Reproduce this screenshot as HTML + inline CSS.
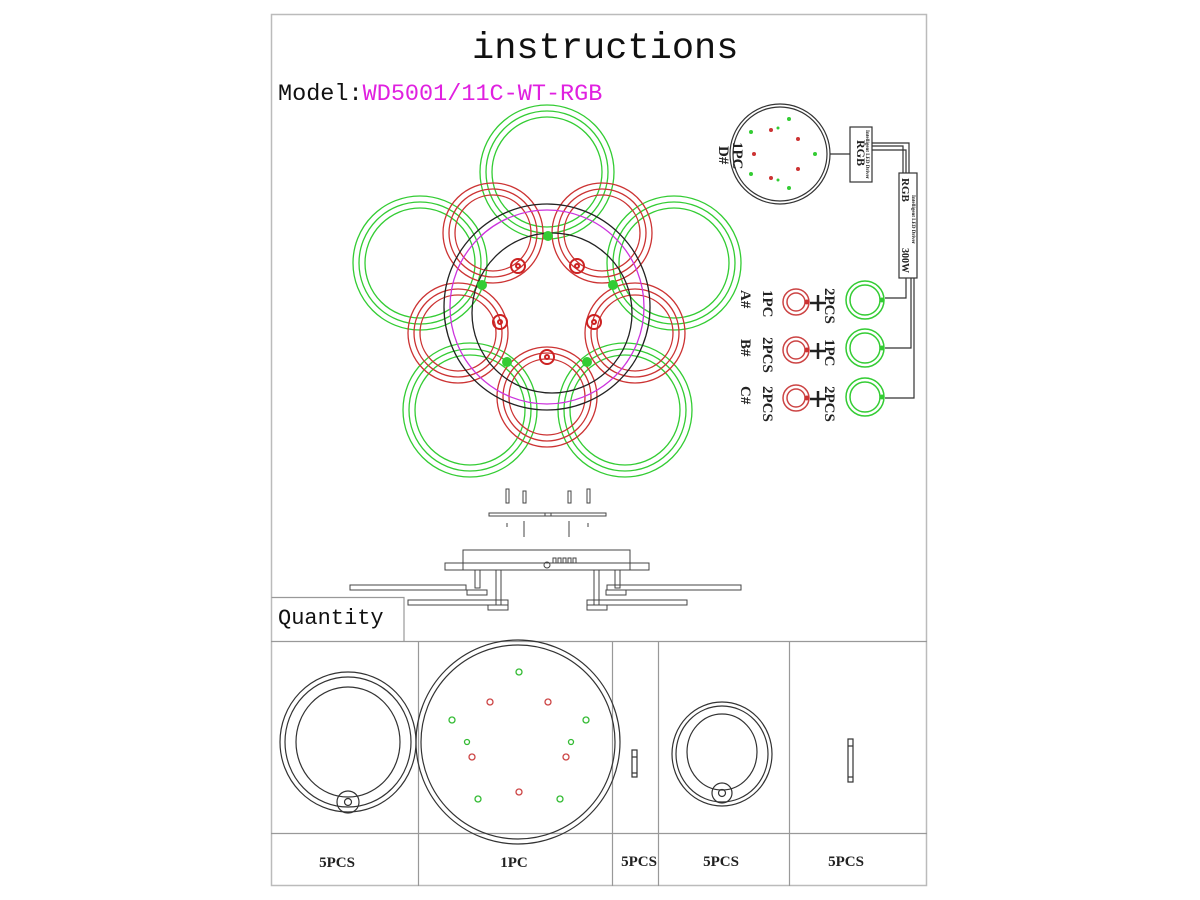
<!DOCTYPE html>
<html><head><meta charset="utf-8"><style>
html,body{margin:0;padding:0;background:#fff;}
svg{display:block}
text{font-family:"Liberation Mono",monospace}
.s{font-family:"Liberation Serif",serif;font-weight:bold}
</style></head><body>
<svg width="1200" height="900" viewBox="0 0 1200 900" xmlns="http://www.w3.org/2000/svg">
<rect x="271.5" y="14.5" width="655" height="871" fill="none" stroke="#bbb" stroke-width="1.5"/>
<text x="472" y="58" font-size="37" fill="#111">instructions</text>
<text x="278" y="100" font-size="23.5" fill="#111">Model:<tspan fill="#e020e0">WD5001/11C-WT-RGB</tspan></text>

<!-- main cluster -->
<g fill="none" stroke-width="1.3">
 <g stroke="#33cc33">
  <circle cx="547" cy="172" r="67"/><circle cx="547" cy="172" r="61"/><circle cx="547" cy="172" r="55"/>
  <circle cx="420" cy="263" r="67"/><circle cx="420" cy="263" r="61"/><circle cx="420" cy="263" r="55"/>
  <circle cx="674" cy="263" r="67"/><circle cx="674" cy="263" r="61"/><circle cx="674" cy="263" r="55"/>
  <circle cx="470" cy="410" r="67"/><circle cx="470" cy="410" r="61"/><circle cx="470" cy="410" r="55"/>
  <circle cx="625" cy="410" r="67"/><circle cx="625" cy="410" r="61"/><circle cx="625" cy="410" r="55"/>
 </g>
 <g stroke="#cc3333">
  <circle cx="493" cy="233" r="50"/><circle cx="493" cy="233" r="44"/><circle cx="493" cy="233" r="38"/>
  <circle cx="602" cy="233" r="50"/><circle cx="602" cy="233" r="44"/><circle cx="602" cy="233" r="38"/>
  <circle cx="458" cy="333" r="50"/><circle cx="458" cy="333" r="44"/><circle cx="458" cy="333" r="38"/>
  <circle cx="635" cy="333" r="50"/><circle cx="635" cy="333" r="44"/><circle cx="635" cy="333" r="38"/>
  <circle cx="547" cy="397" r="50"/><circle cx="547" cy="397" r="44"/><circle cx="547" cy="397" r="38"/>
 </g>
 <circle cx="547" cy="307" r="97" stroke="#cc33dd"/>
 <circle cx="547" cy="307" r="103" stroke="#222"/>
 <circle cx="552" cy="313" r="80" stroke="#222"/>
 <g stroke="#cc2222" stroke-width="2">
  <circle cx="518" cy="266" r="7"/><circle cx="577" cy="266" r="7"/><circle cx="500" cy="322" r="7"/><circle cx="594" cy="322" r="7"/><circle cx="547" cy="357" r="7"/>
  <circle cx="518" cy="266" r="2"/><circle cx="577" cy="266" r="2"/><circle cx="500" cy="322" r="2"/><circle cx="594" cy="322" r="2"/><circle cx="547" cy="357" r="2"/>
 </g>
</g>
<g fill="#33cc33"><circle cx="548" cy="236" r="5"/><circle cx="482" cy="285" r="5"/><circle cx="613" cy="285" r="5"/><circle cx="507" cy="362" r="5"/><circle cx="587" cy="362" r="5"/></g>

<!-- D# panel -->
<g fill="none" stroke="#333" stroke-width="1.2">
 <circle cx="780" cy="154" r="50"/><circle cx="780" cy="154" r="47"/>
 <line x1="830" y1="154" x2="850" y2="154"/>
 <rect x="850" y="127" width="22" height="55"/>
 <rect x="899" y="173" width="18" height="105"/>
 <path d="M872 146 H903 V173 M872 150 H906 V173 M872 143 H909 V173"/>
 <path d="M906 278 V298 H903 M911 278 V348 H885 M914 278 V398 H885"/>
 <line x1="903" y1="298" x2="885" y2="298"/>
</g>
<g fill="#33cc33"><circle cx="789" cy="119" r="2"/><circle cx="751" cy="132" r="2"/><circle cx="778" cy="128" r="1.5"/><circle cx="815" cy="154" r="2"/><circle cx="751" cy="174" r="2"/><circle cx="778" cy="180" r="1.5"/><circle cx="789" cy="188" r="2"/></g>
<g fill="#cc3333"><circle cx="771" cy="130" r="2"/><circle cx="798" cy="139" r="2"/><circle cx="754" cy="154" r="2"/><circle cx="798" cy="169" r="2"/><circle cx="771" cy="178" r="2"/></g>
<text class="s" x="0" y="0" font-size="12" transform="translate(857,140) rotate(90)" fill="#222">RGB</text>
<text class="s" x="0" y="0" font-size="5" transform="translate(866,130) rotate(90)" fill="#222">Intelligent LED Driver</text>
<text class="s" x="0" y="0" font-size="11" transform="translate(902,178) rotate(90)" fill="#222">RGB</text>
<text class="s" x="0" y="0" font-size="5" transform="translate(912,195) rotate(90)" fill="#222">Intelligent LED Driver</text>
<text class="s" x="0" y="0" font-size="10" transform="translate(902,248) rotate(90)" fill="#222">300W</text>
<text class="s" x="0" y="0" font-size="15" transform="translate(733,142) rotate(90)" fill="#222">1PC</text>
<text class="s" x="0" y="0" font-size="15" transform="translate(719,146) rotate(90)" fill="#222">D#</text>

<!-- A B C -->
<g font-size="15" fill="#222">
 <text class="s" transform="translate(741,290) rotate(90)">A#</text>
 <text class="s" transform="translate(763,290) rotate(90)">1PC</text>
 <text class="s" transform="translate(825,288) rotate(90)">2PCS</text>
 <text class="s" transform="translate(741,339) rotate(90)">B#</text>
 <text class="s" transform="translate(763,337) rotate(90)">2PCS</text>
 <text class="s" transform="translate(825,339) rotate(90)">1PC</text>
 <text class="s" transform="translate(741,386) rotate(90)">C#</text>
 <text class="s" transform="translate(763,386) rotate(90)">2PCS</text>
 <text class="s" transform="translate(825,386) rotate(90)">2PCS</text>
</g>
<g fill="none" stroke-width="1.5">
 <g stroke="#cc4444"><circle cx="796" cy="302" r="13"/><circle cx="796" cy="302" r="9"/><circle cx="796" cy="350" r="13"/><circle cx="796" cy="350" r="9"/><circle cx="796" cy="398" r="13"/><circle cx="796" cy="398" r="9"/></g>
 <g stroke="#33cc33"><circle cx="865" cy="300" r="19"/><circle cx="865" cy="300" r="15"/><circle cx="865" cy="348" r="19"/><circle cx="865" cy="348" r="15"/><circle cx="865" cy="397" r="19"/><circle cx="865" cy="397" r="15"/></g>
 <g stroke="#222" stroke-width="2.5"><path d="M818 295 V311 M810 303 H826 M818 343 V359 M810 351 H826 M818 391 V407 M810 399 H826"/></g>
</g>
<g fill="#cc3333"><circle cx="807" cy="302" r="2.5"/><circle cx="807" cy="350" r="2.5"/><circle cx="807" cy="398" r="2.5"/></g>
<g fill="#33cc33"><circle cx="882" cy="300" r="2.5"/><circle cx="882" cy="348" r="2.5"/><circle cx="882" cy="397" r="2.5"/></g>

<!-- mounting / side view -->
<g fill="none" stroke="#444" stroke-width="1">
 <rect x="489" y="513" width="117" height="3"/>
 <rect x="545" y="513" width="6" height="3"/>
 <rect x="506" y="489" width="3" height="14"/><rect x="587" y="489" width="3" height="14"/>
 <rect x="523" y="491" width="3" height="12"/><rect x="568" y="491" width="3" height="12"/>
 <path d="M524 521 V537 M569 521 V537 M507 523 V527 M588 523 V527"/>
 <rect x="463" y="550" width="167" height="20"/>
 <rect x="445" y="563" width="204" height="7"/>
 <rect x="350" y="585" width="116" height="5"/><rect x="607" y="585" width="134" height="5"/>
 <rect x="408" y="600" width="100" height="5"/><rect x="587" y="600" width="100" height="5"/>
 <rect x="467" y="590" width="20" height="5"/><rect x="606" y="590" width="20" height="5"/>
 <rect x="488" y="605" width="20" height="5"/><rect x="587" y="605" width="20" height="5"/>
 <rect x="475" y="570" width="5" height="18"/><rect x="496" y="570" width="5" height="35"/>
 <rect x="594" y="570" width="5" height="35"/><rect x="615" y="570" width="5" height="18"/>
 <circle cx="547" cy="565" r="3"/>
 <path d="M553 558 h3 v5 h-3z M558 558 h3 v5 h-3z M563 558 h3 v5 h-3z M568 558 h3 v5 h-3z M573 558 h3 v5 h-3z"/>
</g>

<!-- Quantity table -->
<g fill="none" stroke="#999" stroke-width="1.2">
 <path d="M271.5 597.5 H404 V641"/>
 <line x1="271" y1="641.5" x2="927" y2="641.5"/>
 <line x1="271" y1="833.5" x2="927" y2="833.5"/>
 <path d="M418.5 641 V886 M612.5 641 V886 M658.5 641 V886 M789.5 641 V886"/>
</g>
<text x="278" y="624" font-size="22" fill="#111">Quantity</text>
<g fill="none" stroke="#333" stroke-width="1.2">
 <ellipse cx="348" cy="742" rx="68" ry="70"/><ellipse cx="348" cy="742" rx="63" ry="65"/><ellipse cx="348" cy="742" rx="52" ry="55"/>
 <circle cx="348" cy="802" r="11"/><circle cx="348" cy="802" r="3.5"/>
 <ellipse cx="518" cy="742" rx="102" ry="102"/><ellipse cx="518" cy="742" rx="97" ry="97"/>
 <ellipse cx="722" cy="754" rx="50" ry="52"/><ellipse cx="722" cy="754" rx="46" ry="48"/><ellipse cx="722" cy="752" rx="35" ry="38"/>
 <circle cx="722" cy="793" r="10"/><circle cx="722" cy="793" r="3.5"/>
 <rect x="632" y="750" width="5" height="27"/><line x1="632" y1="757" x2="637" y2="757"/><line x1="632" y1="773" x2="637" y2="773"/>
 <rect x="848" y="739" width="5" height="43"/><line x1="848" y1="746" x2="853" y2="746"/><line x1="848" y1="777" x2="853" y2="777"/>
</g>
<g fill="none" stroke="#33bb33" stroke-width="1.3"><circle cx="519" cy="672" r="3"/><circle cx="452" cy="720" r="3"/><circle cx="586" cy="720" r="3"/><circle cx="467" cy="742" r="2.5"/><circle cx="571" cy="742" r="2.5"/><circle cx="478" cy="799" r="3"/><circle cx="560" cy="799" r="3"/></g>
<g fill="none" stroke="#cc4444" stroke-width="1.3"><circle cx="490" cy="702" r="3"/><circle cx="548" cy="702" r="3"/><circle cx="472" cy="757" r="3"/><circle cx="566" cy="757" r="3"/><circle cx="519" cy="792" r="3"/></g>
<g font-size="15" fill="#222" text-anchor="middle">
 <text class="s" x="337" y="867">5PCS</text>
 <text class="s" x="514" y="867">1PC</text>
 <text class="s" x="639" y="866">5PCS</text>
 <text class="s" x="721" y="866">5PCS</text>
 <text class="s" x="846" y="866">5PCS</text>
</g>
</svg>
</body></html>
